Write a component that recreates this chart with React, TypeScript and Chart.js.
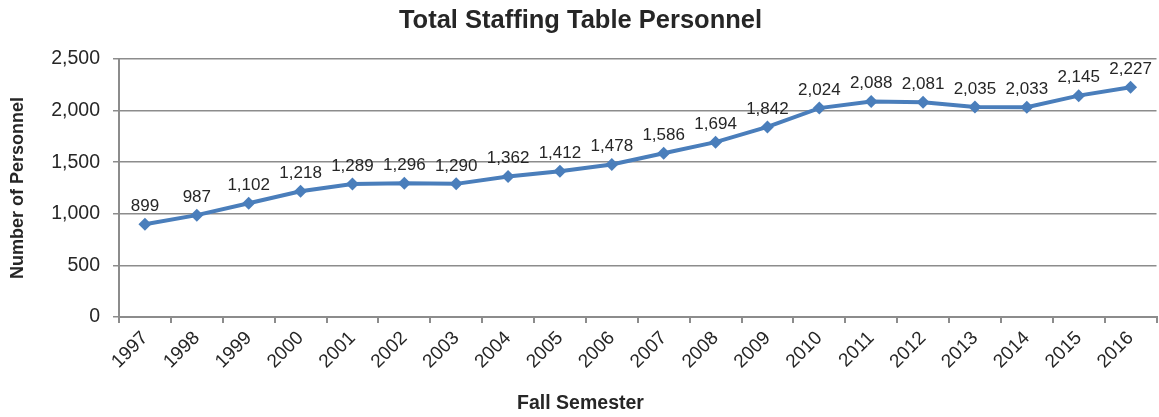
import React, { useEffect, useRef } from "react";
import { Chart, registerables } from "chart.js";

Chart.register(...registerables);

const years = ["1997","1998","1999","2000","2001","2002","2003","2004","2005","2006","2007","2008","2009","2010","2011","2012","2013","2014","2015","2016"];
const personnel = [899, 987, 1102, 1218, 1289, 1296, 1290, 1362, 1412, 1478, 1586, 1694, 1842, 2024, 2088, 2081, 2035, 2033, 2145, 2227];
const yTicks = [0, 500, 1000, 1500, 2000, 2500];

const FONT = "'Liberation Sans', Arial, sans-serif";
const TEXT = "#262626";
const GRAY = "#8c8c8c";
const BLUE = "#4a7ebb";

const fmt = (v: number) => v.toLocaleString("en-US");

const labelPlugin = {
  id: "pointLabels",
  afterDatasetsDraw(chart: any) {
    const ctx = chart.ctx;
    const meta = chart.getDatasetMeta(0);
    ctx.save();
    ctx.font = `17px ${FONT}`;
    ctx.fillStyle = TEXT;
    ctx.textAlign = "center";
    ctx.textBaseline = "middle";
    meta.data.forEach((pt: any, i: number) => {
      ctx.fillText(fmt(personnel[i]), pt.x, pt.y - 18);
    });
    ctx.restore();
  },
};

export default function App() {
  const ref = useRef<HTMLCanvasElement>(null);
  useEffect(() => {
    if (!ref.current) return;
    const chart = new Chart(ref.current, {
      type: "line",
      data: {
        labels: years,
        datasets: [
          {
            data: personnel,
            borderColor: BLUE,
            backgroundColor: BLUE,
            borderWidth: 4,
            pointStyle: "rectRot",
            pointRadius: 6.5,
            pointBackgroundColor: BLUE,
            pointBorderColor: BLUE,
            pointBorderWidth: 0,
            tension: 0,
          },
        ],
      },
      options: {
        animation: false,
        responsive: true,
        maintainAspectRatio: false,
        layout: { padding: { left: 0, right: 2, top: 0, bottom: 0 } },
        plugins: {
          legend: { display: false },
          tooltip: { enabled: false },
          title: {
            display: true,
            text: "Total Staffing Table Personnel",
            color: TEXT,
            font: { family: FONT, size: 25.5, weight: "bold", lineHeight: 1.2 },
            padding: { top: 5.7, bottom: 22.7 },
          },
          subtitle: {
            display: true,
            position: "bottom",
            text: "Fall Semester",
            color: TEXT,
            font: { family: FONT, size: 19.5, weight: "bold", lineHeight: 1.2 },
            padding: { top: 0, bottom: 1.3 },
          },
        },
        scales: {
          x: {
            type: "category",
            offset: true,
            afterFit: (s: any) => {
              s.height = 417 - 24.7 - 317;
            },
            grid: {
              offset: true,
              drawOnChartArea: false,
              drawTicks: true,
              tickLength: 6,
              color: GRAY,
              tickColor: GRAY,
              lineWidth: 2,
            },
            border: { display: true, color: GRAY, width: 2 },
            ticks: {
              color: TEXT,
              font: { family: FONT, size: 19 },
              minRotation: 45,
              maxRotation: 45,
              autoSkip: false,
              padding: 4,
            },
          },
          y: {
            min: 0,
            max: 2500,
            afterFit: (s: any) => {
              s.width = 119;
            },
            afterBuildTicks: (s: any) => {
              s.ticks = yTicks.map((v) => ({ value: v }));
            },
            grid: {
              color: GRAY,
              lineWidth: 1.5,
              tickLength: 6,
              tickColor: GRAY,
            },
            border: { display: true, color: GRAY, width: 2 },
            ticks: {
              color: TEXT,
              font: { family: FONT, size: 19.5 },
              padding: 13,
              callback: (v: any) => fmt(Number(v)),
            },
            title: {
              display: true,
              text: "Number of Personnel",
              color: TEXT,
              font: { family: FONT, size: 18, weight: "bold", lineHeight: 1.2 },
              padding: { top: 7, bottom: 0 },
            },
          },
        },
      },
      plugins: [labelPlugin],
    } as any);
    return () => chart.destroy();
  }, []);

  return (
    <div style={{ position: "fixed", left: 0, top: 0, width: 1159, height: 417, overflow: "hidden", background: "#fff" }}>
      <div style={{ position: "relative", width: 1163, height: 417 }}>
        <canvas ref={ref} />
      </div>
    </div>
  );
}
